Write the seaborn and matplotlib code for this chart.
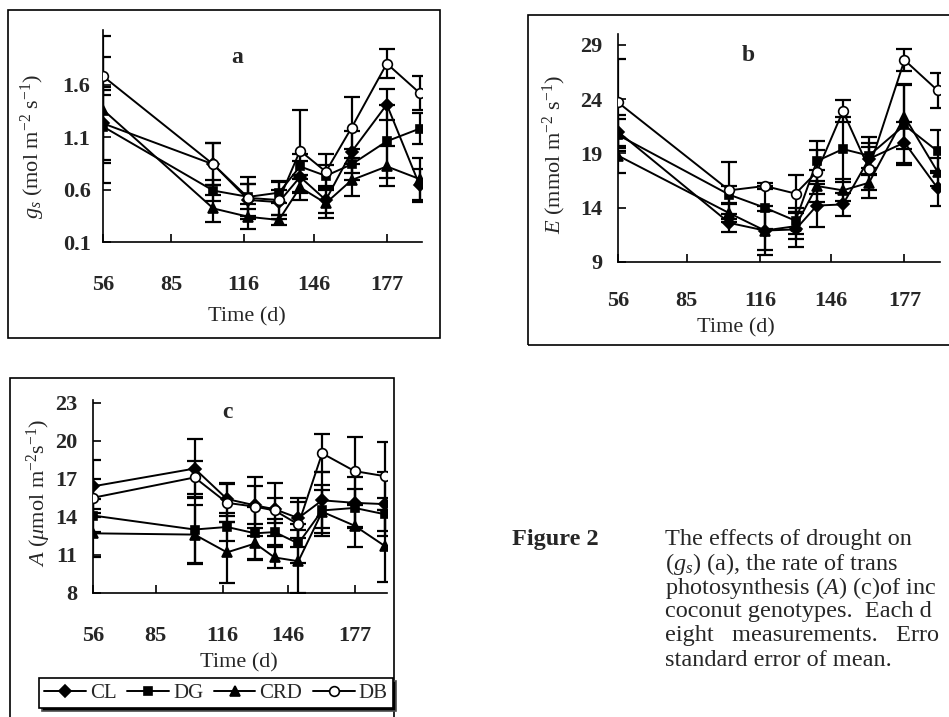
import pandas as pd
import seaborn as sns
import matplotlib.pyplot as plt
from matplotlib.patches import Rectangle

# Measurement days (x positions) and tick labels
days = [56, 103, 118, 131, 140, 151, 162, 177, 191]
xtick_days = [56, 85, 116, 146, 177]
genotypes = ['CL', 'DG', 'CRD', 'DB']

# (a) stomatal conductance gs, mol m-2 s-1
gs_cl = [1.23, 0.84, 0.50, 0.48, 0.72, 0.50, 0.96, 1.41, 0.64]
gs_dg = [1.20, 0.59, 0.53, 0.57, 0.82, 0.73, 0.84, 1.06, 1.18]
gs_crd = [1.36, 0.42, 0.34, 0.31, 0.62, 0.47, 0.69, 0.82, 0.70]
gs_db = [1.68, 0.84, 0.52, 0.50, 0.97, 0.77, 1.19, 1.80, 1.52]
gs_cl_se = [0.35, 0.20, 0.15, 0.12, 0.15, 0.12, 0.20, 0.15, 0.16]
gs_dg_se = [0.35, 0.10, 0.12, 0.10, 0.12, 0.10, 0.15, 0.35, 0.15]
gs_crd_se = [0.70, 0.13, 0.12, 0.05, 0.12, 0.14, 0.15, 0.19, 0.20]
gs_db_se = [0.18, 0.20, 0.20, 0.18, 0.39, 0.17, 0.29, 0.14, 0.16]

# (b) transpiration E, mmol m-2 s-1
e_cl = [21.0, 12.6, 11.9, 12.0, 14.2, 14.3, 18.5, 20.0, 15.8]
e_dg = [20.7, 15.2, 14.0, 12.8, 18.3, 19.4, 18.8, 21.6, 19.2]
e_crd = [18.8, 13.5, 11.9, 12.3, 16.0, 15.6, 16.3, 22.4, 17.3]
e_db = [23.7, 15.6, 16.0, 15.3, 17.3, 22.9, 17.6, 27.6, 24.8]
e_cl_se = [1.5, 0.8, 1.8, 1.6, 2.0, 1.1, 1.5, 1.9, 1.6]
e_dg_se = [1.5, 0.8, 2.0, 1.2, 1.8, 3.0, 1.7, 3.7, 2.0]
e_crd_se = [1.6, 0.8, 2.3, 1.2, 1.5, 1.0, 1.4, 3.0, 1.3]
e_db_se = [4.0, 2.6, 0.3, 1.7, 2.0, 1.0, 2.0, 1.0, 1.6]

# (c) photosynthesis A, umol m-2 s-1
a_cl = [16.4, 17.8, 15.4, 14.9, 14.6, 13.9, 15.3, 15.1, 15.0]
a_dg = [14.1, 13.0, 13.2, 12.7, 12.8, 11.9, 14.5, 14.7, 14.2]
a_crd = [12.7, 12.6, 11.2, 11.9, 10.8, 10.5, 14.4, 13.3, 11.7]
a_db = [15.5, 17.1, 15.1, 14.8, 14.5, 13.4, 19.0, 17.6, 17.2]
a_cl_se = [2.1, 2.3, 1.3, 1.5, 2.1, 1.6, 2.2, 2.0, 2.5]
a_dg_se = [1.3, 2.6, 1.1, 2.1, 1.0, 1.5, 2.0, 1.5, 1.3]
a_crd_se = [1.9, 2.3, 2.4, 1.2, 0.8, 2.5, 1.7, 1.7, 2.8]
a_db_se = [1.5, 1.3, 1.5, 2.3, 1.0, 1.8, 1.5, 2.7, 2.7]


def make_frame(means, errors):
    rows = []
    for g, m, s in zip(genotypes, means, errors):
        for d, v, e in zip(days, m, s):
            rows.append({'day': d, 'genotype': g, 'value': v, 'se': e})
    return pd.DataFrame(rows)


gs_df = make_frame([gs_cl, gs_dg, gs_crd, gs_db], [gs_cl_se, gs_dg_se, gs_crd_se, gs_db_se])
e_df = make_frame([e_cl, e_dg, e_crd, e_db], [e_cl_se, e_dg_se, e_crd_se, e_db_se])
a_df = make_frame([a_cl, a_dg, a_crd, a_db], [a_cl_se, a_dg_se, a_crd_se, a_db_se])

markers = {'CL': 'D', 'DG': 's', 'CRD': '^', 'DB': 'o'}
msizes = {'CL': 6, 'DG': 6, 'CRD': 7.5, 'DB': 7}
faces = {'CL': 'black', 'DG': 'black', 'CRD': 'black', 'DB': 'white'}

sns.set_style("ticks")
plt.rcParams['font.family'] = ['Liberation Serif', 'DejaVu Serif']
plt.rcParams['mathtext.fontset'] = 'custom'
plt.rcParams['mathtext.rm'] = 'Liberation Serif'
plt.rcParams['mathtext.it'] = 'Liberation Serif:italic'
plt.rcParams['mathtext.bf'] = 'Liberation Serif:bold'

W, H = 949, 717
fig = plt.figure(figsize=(W / 100, H / 100), dpi=100)


def px_axes(x0, x1, y_top, y_bot):
    return fig.add_axes([x0 / W, 1 - y_bot / H, (x1 - x0) / W, (y_bot - y_top) / H])


def draw_panel(ax, df, ylim, yticks, ylabel, letter, letter_xy, xpad, ypad, ylab_x, ylab_y, xlab_xy):
    for g in genotypes:
        sub = df[df['genotype'] == g]
        ax.errorbar(sub['day'], sub['value'], yerr=sub['se'], fmt='none', ecolor='black',
                    elinewidth=1.6, capsize=5.5, capthick=1.6, zorder=2)
    for g in genotypes:
        sub = df[df['genotype'] == g]
        sns.lineplot(data=sub, x='day', y='value', ax=ax, color='black', lw=1.4,
                     marker=markers[g], markersize=msizes[g], markerfacecolor=faces[g],
                     markeredgecolor='black', markeredgewidth=1.2, label=g,
                     errorbar=None, zorder=3)
    if ax.get_legend() is not None:
        ax.get_legend().remove()
    ax.set_xlim(56, 192)
    ax.set_ylim(*ylim)
    ax.set_xticks(xtick_days)
    ax.set_yticks(yticks)
    ax.set_yticklabels([('%g' % t) for t in yticks])
    ax.tick_params(axis='both', direction='in', length=6, width=1.2, labelsize=16, color='black')
    ax.tick_params(axis='x', pad=xpad)
    ax.tick_params(axis='y', pad=ypad)
    for lab in ax.get_xticklabels() + ax.get_yticklabels():
        lab.set_fontweight('bold')
    sns.despine(ax=ax)
    for sp in ['left', 'bottom']:
        ax.spines[sp].set_color('black')
        ax.spines[sp].set_linewidth(1.2)
    ax.set_ylabel(ylabel, fontsize=16)
    ax.yaxis.set_label_coords(ylab_x, ylab_y)
    ax.set_xlabel('Time (d)', fontsize=16, va='top')
    ax.xaxis.set_label_coords(*xlab_xy)
    ax.text(letter_xy[0], letter_xy[1], letter, fontsize=17, fontweight='bold',
            ha='center', va='center')
    ax.set_facecolor('none')


ax_a = px_axes(103, 422, 30, 242)
draw_panel(ax_a, gs_df, (0.1, 2.12), [0.1, 0.6, 1.1, 1.6],
           r'$g_s$ (mol m$^{-2}$ s$^{-1}$)', 'a', (113, 1.86),
           xpad=24, ypad=9, ylab_x=-0.175, ylab_y=0.45, xlab_xy=(0.451, -0.31))

ax_b = px_axes(618, 940, 34, 262)
draw_panel(ax_b, e_df, (9, 30), [9, 14, 19, 24, 29],
           r'$E$ (mmol m$^{-2}$ s$^{-1}$)', 'b', (111, 28),
           xpad=21, ypad=11, ylab_x=-0.155, ylab_y=0.47, xlab_xy=(0.366, -0.245))

ax_c = px_axes(93, 387, 400, 593)
draw_panel(ax_c, a_df, (8, 23.2), [8, 11, 14, 17, 20, 23],
           r'$A$ ($\mu$mol m$^{-2}$s$^{-1}$)', 'c', (118, 22.2),
           xpad=24, ypad=11, ylab_x=-0.136, ylab_y=0.52, xlab_xy=(0.497, -0.31))

# legend under panel c
handles, labels = ax_c.get_legend_handles_labels()
fig.legend(handles, labels, loc='center', ncol=4, fontsize=15, frameon=True,
           bbox_to_anchor=(216 / W, 1 - 693 / H), bbox_transform=fig.transFigure,
           handlelength=2.0, handletextpad=0.2, columnspacing=0.5, borderpad=0.25,
           fancybox=False, edgecolor='black', framealpha=1,
           shadow={'facecolor': 'black', 'alpha': 1})
leg = fig.legends[0]
leg.get_frame().set_linewidth(1.2)

# panel frames
for x0, y0, x1, y1 in [(8, 10, 440, 338), (528, 15, 960, 345), (10, 378, 394, 720)]:
    fig.add_artist(Rectangle((x0 / W, 1 - y1 / H), (x1 - x0) / W, (y1 - y0) / H,
                             transform=fig.transFigure, fill=False, ec='black', lw=1.2))

# caption
fig.text(512 / W, 1 - 540 / H, 'Figure 2', fontsize=17.5, fontweight='bold', va='center')
caption = ['The effects of drought on',
           r'($g_s$) (a), the rate of trans',
           r'photosynthesis ($A$) (c)of inc',
           'coconut genotypes.  Each d',
           'eight   measurements.   Erro',
           'standard error of mean.']
for i, line in enumerate(caption):
    fig.text(665 / W, 1 - (540 + 24 * i) / H, line, fontsize=17.5, va='center')

fig.savefig('out.png', dpi=100)
